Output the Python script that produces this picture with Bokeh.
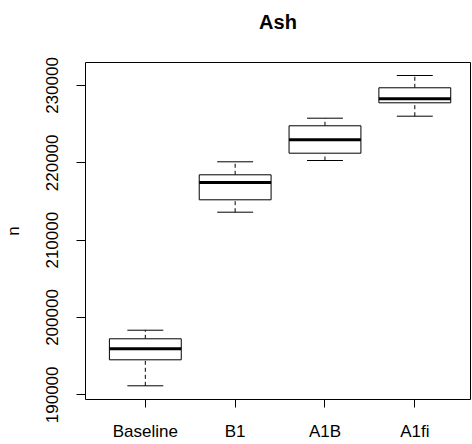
from bokeh.plotting import figure
from bokeh.models import Range1d, FixedTicker, BasicTickFormatter, ColumnDataSource, LinearAxis
from bokeh.embed import file_html
from bokeh.resources import INLINE

# ---- data ----
categories = ["Baseline", "B1", "A1B", "A1fi"]
whisker_low = [191166, 213616, 220301, 226030]
q1 = [194529, 215219, 221245, 227763]
median = [195951, 217456, 222978, 228280]
q3 = [197244, 218452, 224789, 229703]
whisker_high = [198356, 220133, 225771, 231293]
y_ticks = [190000, 200000, 210000, 220000, 230000]
title_text = "Ash"
y_label = "n"

pos = [i + 1 for i in range(len(categories))]
box_half = 0.4
cap_half = 0.2

src = ColumnDataSource(dict(
    x=pos,
    left=[p_ - box_half for p_ in pos],
    right=[p_ + box_half for p_ in pos],
    cl=[p_ - cap_half for p_ in pos],
    cr=[p_ + cap_half for p_ in pos],
    lo=whisker_low, q1=q1, med=median, q3=q3, hi=whisker_high,
))

FONT = "Liberation Sans"

p = figure(width=472, height=444, output_backend="svg", toolbar_location=None,
           x_range=Range1d(0.334, 4.62), y_range=Range1d(189395, 232974),
           min_border_left=83, min_border_right=2, min_border_top=62, min_border_bottom=45)
p.background_fill_color = "white"
p.border_fill_color = "white"
p.outline_line_color = "black"
p.outline_line_width = 1
p.xgrid.visible = False
p.ygrid.visible = False

# title: drawn as the label of a bare axis above the frame
top_axis = LinearAxis(ticker=FixedTicker(ticks=[]), axis_label=title_text)
top_axis.axis_line_color = None
top_axis.major_tick_line_color = None
top_axis.minor_tick_line_color = None
top_axis.major_tick_out = 0
top_axis.major_tick_in = 0
top_axis.minor_tick_out = 0
top_axis.minor_tick_in = 0
top_axis.major_label_standoff = 0
top_axis.axis_label_standoff = 30
top_axis.axis_label_text_font = FONT
top_axis.axis_label_text_font_size = "20px"
top_axis.axis_label_text_font_style = "bold"
top_axis.axis_label_text_color = "black"
p.add_layout(top_axis, "above")

# whiskers (dashed)
p.segment(x0="x", y0="q3", x1="x", y1="hi", source=src, line_color="black",
          line_width=1, line_dash="4 3")
p.segment(x0="x", y0="lo", x1="x", y1="q1", source=src, line_color="black",
          line_width=1, line_dash="4 3")
# caps
p.segment(x0="cl", y0="hi", x1="cr", y1="hi", source=src, line_color="black", line_width=1)
p.segment(x0="cl", y0="lo", x1="cr", y1="lo", source=src, line_color="black", line_width=1)
# boxes
p.quad(left="left", right="right", bottom="q1", top="q3", source=src,
       fill_color="white", line_color="black", line_width=1)
# medians
p.segment(x0="left", y0="med", x1="right", y1="med", source=src,
          line_color="black", line_width=3)

# x axis
xa = p.below[0]
xa.ticker = FixedTicker(ticks=pos)
xa.major_label_overrides = {p_: c for p_, c in zip(pos, categories)}
xa.axis_line_color = None
xa.major_tick_out = 8
xa.major_tick_in = 0
xa.minor_tick_line_color = None
xa.major_tick_line_color = "black"
xa.major_label_standoff = 14
xa.major_label_text_font = FONT
xa.major_label_text_font_size = "17px"
xa.major_label_text_color = "black"

# y axis
ya = p.left[0]
ya.ticker = FixedTicker(ticks=y_ticks)
ya.formatter = BasicTickFormatter(use_scientific=False)
ya.axis_line_color = None
ya.major_tick_out = 9
ya.major_tick_in = 0
ya.minor_tick_line_color = None
ya.major_tick_line_color = "black"
ya.major_label_orientation = "vertical"
ya.major_label_standoff = 18
ya.major_label_text_font = FONT
ya.major_label_text_font_size = "17px"
ya.major_label_text_color = "black"
ya.axis_label = y_label
ya.axis_label_text_font = FONT
ya.axis_label_text_font_size = "17px"
ya.axis_label_text_font_style = "normal"
ya.axis_label_text_color = "black"
ya.axis_label_standoff = 21

open("out.html", "w").write(file_html(p, INLINE))
